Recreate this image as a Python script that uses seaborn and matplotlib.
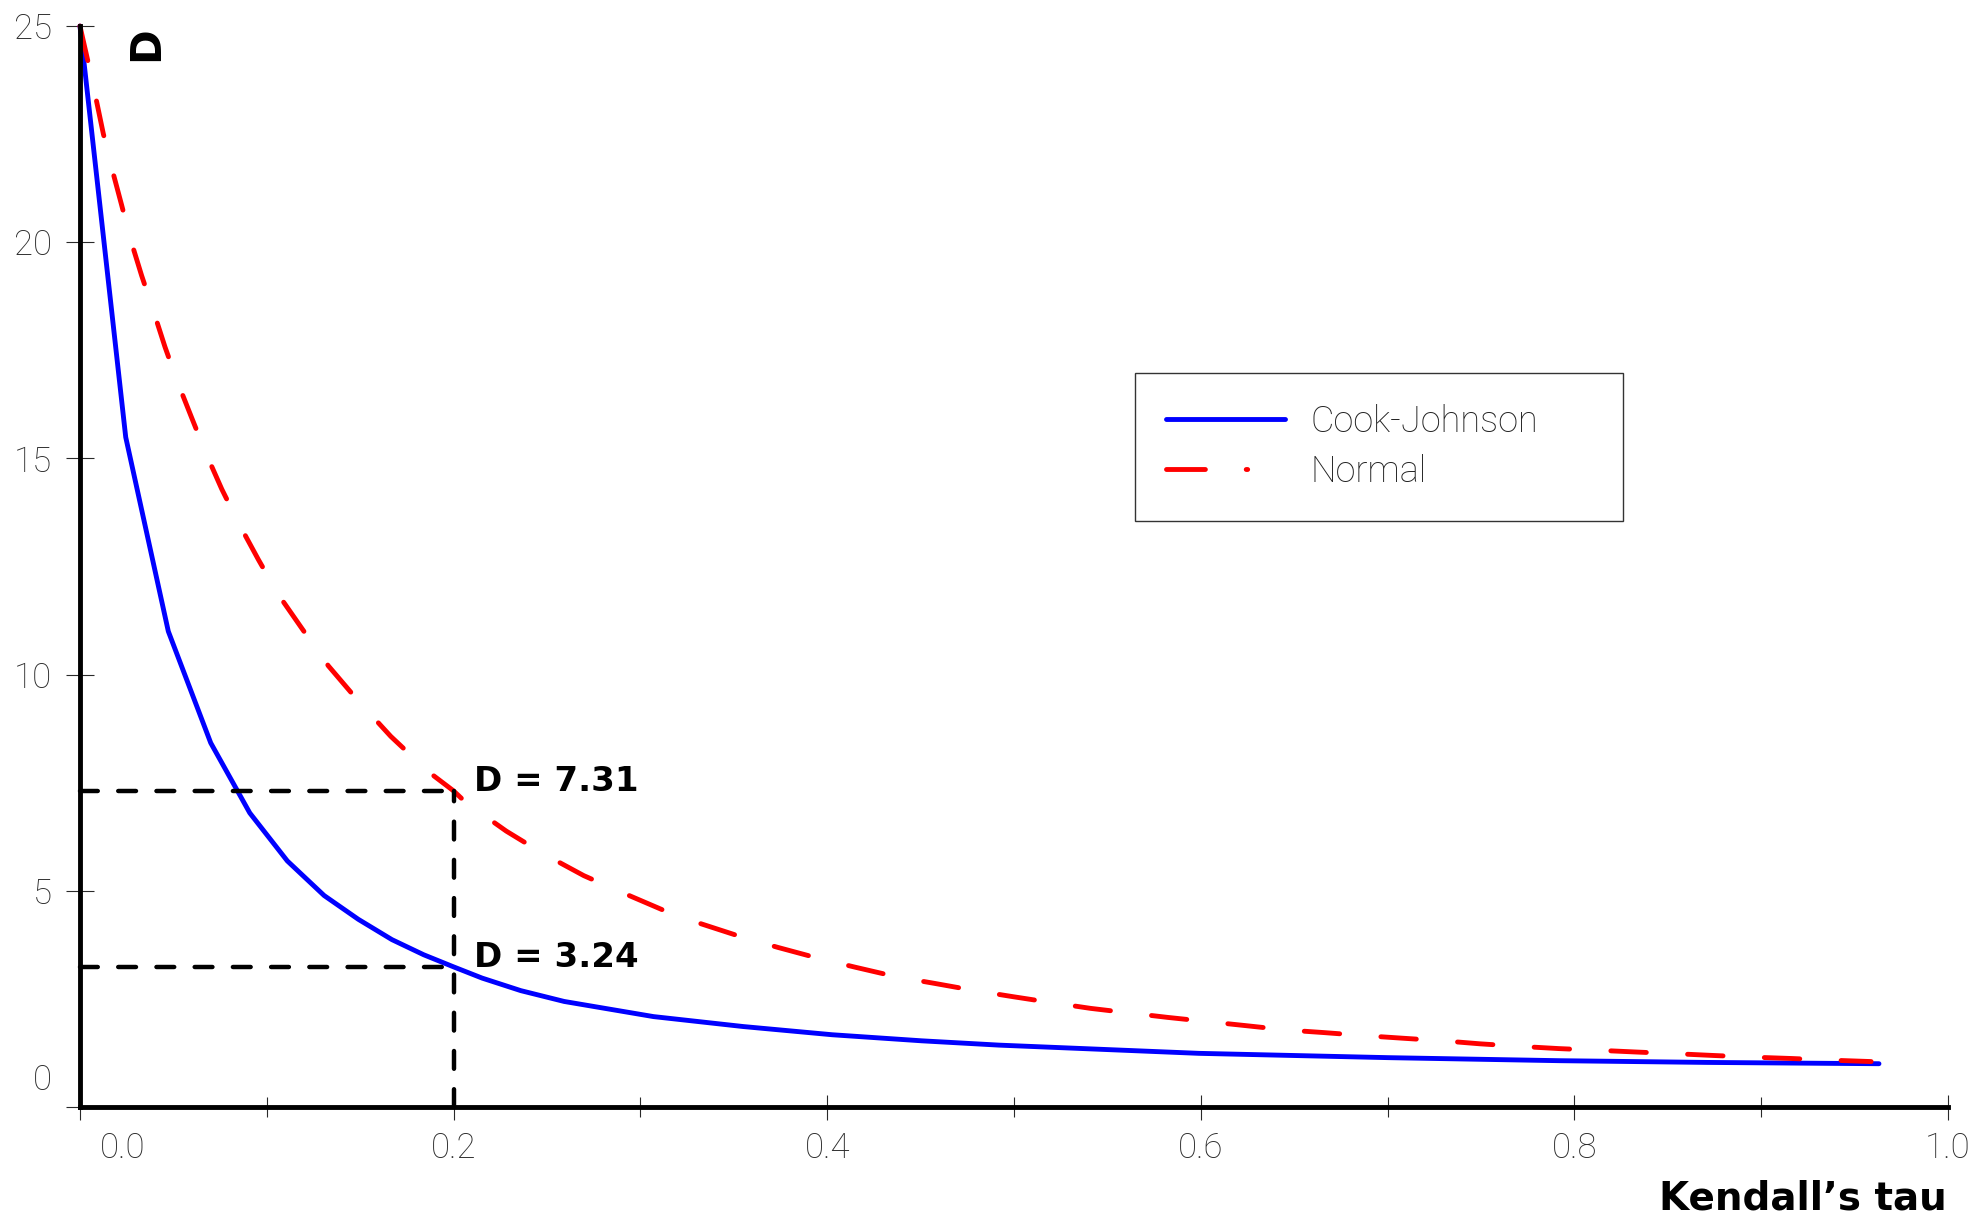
import matplotlib
matplotlib.use('Agg')
import matplotlib.pyplot as plt
import matplotlib.transforms as mtransforms
from matplotlib.lines import Line2D
import seaborn as sns
import pandas as pd

# Cook-Johnson copula curve
cj_tau = [0.0, 0.0245, 0.0473, 0.070, 0.0909, 0.111, 0.1307, 0.149, 0.167, 0.184,
          0.2, 0.2153, 0.236, 0.2592, 0.307, 0.355, 0.4027, 0.4505, 0.492, 0.599,
          0.7007, 0.792, 0.871, 0.963]
cj_d = [25.0, 15.49, 11.0, 8.42, 6.80, 5.69, 4.89, 4.34, 3.87, 3.52,
        3.24, 2.98, 2.69, 2.44, 2.09, 1.86, 1.67, 1.53, 1.43, 1.24,
        1.14, 1.07, 1.03, 1.00]

# Normal copula curve
norm_tau = [0.0, 0.0045, 0.0084, 0.0125, 0.017, 0.0223, 0.0271, 0.033, 0.0391, 0.0455,
            0.0521, 0.0598, 0.0673, 0.0759, 0.0852, 0.0955, 0.1062, 0.1194, 0.133, 0.149,
            0.1664, 0.1866, 0.2, 0.2066, 0.2282, 0.2483, 0.2697, 0.2902, 0.3118, 0.3315,
            0.3536, 0.3736, 0.3951, 0.4152, 0.4371, 0.4572, 0.4792, 0.4995, 0.5206, 0.541,
            0.5626, 0.5825, 0.6045, 0.6242, 0.6458, 0.6659, 0.6873, 0.708, 0.7295, 0.7495,
            0.7711, 0.7916, 0.8132, 0.8333, 0.855, 0.8747, 0.8966, 0.9166, 0.9386, 0.9588]
norm_d = [25.0, 24.14, 23.36, 22.51, 21.72, 20.86, 20.06, 19.23, 18.44, 17.58,
          16.78, 15.94, 15.13, 14.29, 13.48, 12.66, 11.85, 11.03, 10.20, 9.39,
          8.57, 7.75, 7.31, 7.04, 6.38, 5.85, 5.35, 4.96, 4.56, 4.25,
          3.94, 3.69, 3.44, 3.23, 3.01, 2.86, 2.69, 2.55, 2.41, 2.28,
          2.17, 2.07, 1.97, 1.88, 1.78, 1.72, 1.65, 1.59, 1.53, 1.46,
          1.40, 1.35, 1.31, 1.27, 1.23, 1.19, 1.15, 1.12, 1.08, 1.05]

# values marked at tau = 0.2
mark_tau = 0.2
mark_cj = 3.24
mark_norm = 7.31

x_ticks = [0.0, 0.2, 0.4, 0.6, 0.8, 1.0]
x_tick_labels = ['0.0', '0.2', '0.4', '0.6', '0.8', '1.0']
x_minor_ticks = [0.1, 0.3, 0.5, 0.7, 0.9]
y_ticks = [0, 5, 10, 15, 20, 25]
y_tick_labels = ['0', '5', '10', '15', '20', '25']
legend_labels = ['Cook-Johnson', 'Normal']

sns.set_theme(style='white')
plt.rcParams['font.family'] = ['DejaVu Sans']

thin_font = {'family': ['Roboto', 'DejaVu Sans'], 'weight': 'light'}
tick_color = '#2a2a2a'
curve_lw = 3.5

fig = plt.figure(figsize=(19.84, 12.21), dpi=100)
ax = fig.add_axes([0.0403, 0.0934, 0.9416, 0.8853])

cj_df = pd.DataFrame({'tau': cj_tau, 'D': cj_d})
norm_df = pd.DataFrame({'tau': norm_tau, 'D': norm_d})

sns.lineplot(data=cj_df, x='tau', y='D', ax=ax, color='#0000ff', linewidth=curve_lw,
             estimator=None, clip_on=False, solid_capstyle='round', zorder=3)
sns.lineplot(data=norm_df, x='tau', y='D', ax=ax, color='#ff0000', linewidth=curve_lw,
             estimator=None, clip_on=False, zorder=4)
red_line = ax.lines[-1]
red_line.set_dashes((7.3, 8.5))
red_line.set_dash_capstyle('round')

# dashed guide lines at tau = 0.2
for level in (mark_norm, mark_cj):
    ax.plot([0, mark_tau], [level, level], color='black', linewidth=3.2,
            dashes=(4.0, 4.6), dash_capstyle='round', zorder=5, clip_on=False)
ax.plot([mark_tau, mark_tau], [0, mark_norm], color='black', linewidth=3.2,
        dashes=(4.0, 4.6), dash_capstyle='round', zorder=5, clip_on=False)

for level in (mark_norm, mark_cj):
    ax.text(0.211, level, f'D = {level:.2f}', fontsize=24.5, fontweight='bold',
            ha='left', va='baseline', color='black')

ax.set_xlim(0, 1.0)
ax.set_ylim(0, 25)

for side in ['top', 'right']:
    ax.spines[side].set_visible(False)
for side in ['left', 'bottom']:
    ax.spines[side].set_linewidth(3.5)
    ax.spines[side].set_color('black')
    ax.spines[side].set_zorder(6)

ax.set_xticks(x_ticks, x_tick_labels, fontsize=25, color=tick_color, **thin_font)
ax.set_xticks(x_minor_ticks, minor=True)
ax.set_yticks(y_ticks, y_tick_labels, fontsize=25, color=tick_color, **thin_font)

ax.tick_params(axis='x', which='major', direction='inout', length=18, width=0.8,
               color=tick_color, pad=9, bottom=True)
ax.tick_params(axis='x', which='minor', direction='inout', length=14, width=0.8,
               color=tick_color, bottom=True)
ax.tick_params(axis='y', which='major', direction='inout', length=20, width=0.8,
               color=tick_color, pad=10, left=True)

# the reference nudges the two zero labels away from the corner
y0 = ax.get_yticklabels()[0]
y0.set_transform(y0.get_transform() + mtransforms.ScaledTranslation(0, 0.30, fig.dpi_scale_trans))
x0 = ax.get_xticklabels()[0]
x0.set_transform(x0.get_transform() + mtransforms.ScaledTranslation(0.43, 0, fig.dpi_scale_trans))

ax.set_xlabel('Kendall\u2019s tau', fontsize=28, fontweight='bold', color='black')
ax.xaxis.set_label_coords(0.9995, -0.085)
ax.xaxis.label.set_ha('right')
ax.xaxis.label.set_va('center')

ax.set_ylabel('D', fontsize=30, fontweight='bold', color='black', rotation=90)
ax.yaxis.set_label_coords(0.0353, 0.984)
ax.yaxis.label.set_va('center')
ax.yaxis.label.set_ha('center')

handles = [
    Line2D([], [], color='#0000ff', linewidth=curve_lw, solid_capstyle='round'),
    Line2D([], [], color='#ff0000', linewidth=curve_lw, dashes=(8.0, 8.4, 0.3, 20),
           dash_capstyle='round'),
]
leg = ax.legend(handles, legend_labels, loc='upper left',
                bbox_to_anchor=(1135 / 1984, 1 - 519 / 1221, 488 / 1984, 146 / 1221),
                bbox_transform=fig.transFigure, mode='expand', borderaxespad=0,
                borderpad=0.85, handlelength=3.3, handletextpad=0.7, labelspacing=0.4,
                fancybox=False, framealpha=1, edgecolor='#333333',
                prop={'family': ['Roboto', 'DejaVu Sans'], 'weight': 'light', 'size': 26})
leg.get_frame().set_linewidth(1.0)
for t in leg.get_texts():
    t.set_color('#222222')

fig.savefig('out.png', dpi=100)
plt.close(fig)
